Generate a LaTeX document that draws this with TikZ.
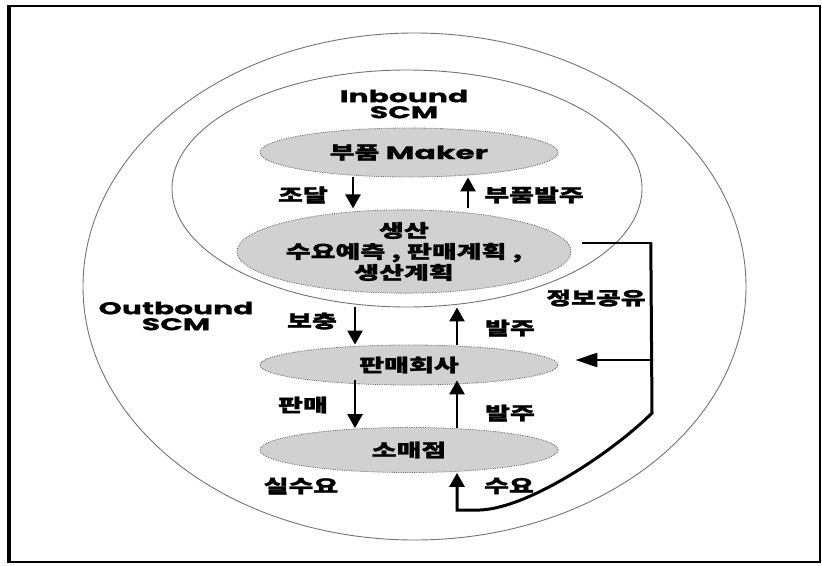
\documentclass[tikz,border=0pt]{standalone}
\usepackage{fontspec}
\usetikzlibrary{shapes.geometric,arrows.meta}
\newfontfamily\krfont{Noto Sans CJK KR}[FakeStretch=1.5,BoldFeatures={FakeBold=1.6}]
\newfontfamily\enfont{Poppins}[FakeStretch=1.75,BoldFeatures={FakeBold=0.8}]

\begin{document}
\begin{tikzpicture}[x=1pt,y=-1pt,
  zone/.style={ellipse,draw=black!55,line width=0.9pt,inner sep=0pt},
  stage/.style={ellipse,draw=black!60,densely dotted,line width=0.8pt,fill=black!18,
    inner sep=0pt,align=center,text=black,
    font={\krfont\bfseries\fontsize{18}{21}\selectfont}},
  krlabel/.style={inner sep=0pt,font={\krfont\bfseries\fontsize{18}{21}\selectfont}},
  enlabel/.style={inner sep=0pt,align=center,font={\enfont\bfseries\fontsize{17}{17}\selectfont}},
  flow/.style={line width=2.6pt,-{Triangle[width=15pt,length=14pt]}},
  share/.style={line width=3pt,line join=miter},
]
\useasboundingbox (0,0) rectangle (822,565);

% outer frame
\draw[line width=1.6pt] (8,6) rectangle (820,562);
\draw[line width=3.5pt] (9.5,6) -- (9.5,562);

% outbound and inbound zones
\node[zone,minimum width=663pt,minimum height=507pt] (outer) at (414.5,286.5) {};
\node[zone,minimum width=470pt,minimum height=237pt] (inner) at (407,188.5) {};

% zone titles
\node[enlabel] (inTitle) at (404,104) {Inbound\\[-1pt]SCM};
\node[enlabel] (outTitle) at (176,316) {Outbound\\[-1pt]SCM};

% supply chain stages
\node[stage,minimum width=298pt,minimum height=49pt] (maker) at (409,152.5)
  {부품 {\enfont Maker}};
\node[stage,minimum width=318pt,minimum height=77pt] (prod) at (404,251.5)
  {생산\\수요예측 , 판매계획 ,\\생산계획};
\node[stage,minimum width=298pt,minimum height=40pt] (sales) at (409,365) {판매회사};
\node[stage,minimum width=298pt,minimum height=45pt] (retail) at (409,450) {소매점};

% arrow columns
\coordinate (c1) at (353,0);
\coordinate (c2) at (468,0);
\coordinate (c3) at (355,0);
\coordinate (c4) at (457,0);

% flows between stages
\draw[flow] (maker.south -| c1) -- ([yshift=1pt]prod.north -| c1);
\draw[flow] ([yshift=1pt]prod.north -| c2) -- (maker.south -| c2);
\draw[flow] (inner.south -| c3) -- (sales.north -| c3);
\draw[flow] (sales.north -| c4) -- (inner.south -| c4);
\draw[flow] ([yshift=5pt]sales.south -| c3) -- ([yshift=-1pt]retail.north -| c3);
\draw[flow] ([yshift=-1pt]retail.north -| c4) -- ([yshift=5pt]sales.south -| c4);

% flow labels
\node[krlabel] (lbl1) at (303,195) {조달};
\node[krlabel] (lbl2) at (534,195) {부품발주};
\node[krlabel] (lbl3) at (312,321) {보충};
\node[krlabel] (lbl4) at (510,328) {발주};
\node[krlabel] (lbl5) at (303,405) {판매};
\node[krlabel] (lbl6) at (510,413) {발주};
\node[krlabel] (lbl7) at (301,486) {실수요};
\node[krlabel] (lbl8) at (509,486) {수요};
\node[krlabel] (lbl9) at (596,298) {정보공유};

% information sharing loop
\coordinate (infoStart) at (582,243);
\coordinate (infoCorner) at (652,243);
\coordinate (infoTap) at (652,360);
\coordinate (infoBend) at (652,413);
\coordinate (infoFoot) at (457,510);
\draw[share,line width=2.4pt] (infoStart) -- (infoCorner);
\draw[share,-{Triangle[width=15pt,length=14pt]}]
  ([xshift=-1.2pt]infoCorner) -- (infoBend)
  .. controls (615,450) and (530,508) .. (480,510)
  -- (infoFoot) -- (retail.south -| infoFoot);
\draw[line width=2.4pt,-{Triangle[width=14pt,length=22pt]}]
  (infoTap) -- ([xshift=17pt]sales.east |- infoTap);
\end{tikzpicture}
\end{document}
